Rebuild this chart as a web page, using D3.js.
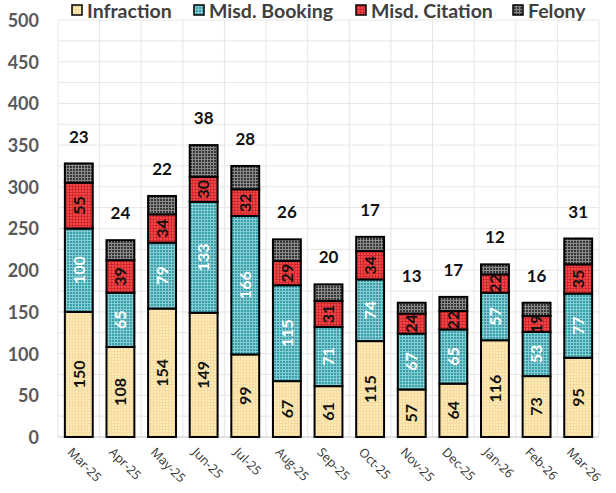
<!DOCTYPE html>
<html><head><meta charset="utf-8">
<script src="https://cdn.jsdelivr.net/npm/d3@7"></script>
<style>body{margin:0;background:#fff}svg{display:block}</style>
</head><body>
<svg id="c" width="616" height="493"></svg>
<script>
const months = ["Mar-25","Apr-25","May-25","Jun-25","Jul-25","Aug-25","Sep-25","Oct-25","Nov-25","Dec-25","Jan-26","Feb-26","Mar-26"];
const infraction = [150,108,154,149,99,67,61,115,57,64,116,73,95];
const misdBooking = [100,65,79,133,166,115,71,74,67,65,57,53,77];
const misdCitation = [55,39,34,30,32,29,31,34,24,22,22,19,35];
const felony = [23,24,22,38,28,26,20,17,13,17,12,16,31];
const seriesNames = ["Infraction","Misd. Booking","Misd. Citation","Felony"];
const yTicks = [0,50,100,150,200,250,300,350,400,450,500];

const svg = d3.select("#c");
const M = {l:58, r:17, t:20, b:56};
const x = d3.scaleBand().domain(months).range([M.l, 599]).paddingInner(0.33).paddingOuter(0.165);
const xb = d3.scaleBand().domain(months).range([M.l, 599]);
const y = d3.scaleLinear().domain([0,500]).range([437, 20]);
const FONT = "Lato, 'Open Sans', sans-serif";

const defs = svg.append("defs");
const pats = [
  {id:"p0", base:"#fdeab8", line:"#f5dc9e"},
  {id:"p1", base:"#36a0ab", line:"#86cbd2"},
  {id:"p2", base:"#f4474a", line:"#d02a2e"},
  {id:"p3", base:"#363636", line:"#8a8a8a"}
];
pats.forEach(p=>{
  const pt = defs.append("pattern").attr("id",p.id).attr("patternUnits","userSpaceOnUse").attr("width",3).attr("height",3);
  pt.append("rect").attr("width",3).attr("height",3).attr("fill",p.base);
  pt.append("rect").attr("x",0).attr("y",0).attr("width",3).attr("height",1).attr("fill",p.line);
  pt.append("rect").attr("x",0).attr("y",0).attr("width",1).attr("height",3).attr("fill",p.line);
});

// grid
const g = svg.append("g");
d3.range(0,501,25).forEach(v=>{
  g.append("line").attr("x1",M.l).attr("x2",599).attr("y1",y(v)).attr("y2",y(v)).attr("stroke","#e6e6e6").attr("stroke-width",1);
});
months.forEach(m=>{
  g.append("line").attr("x1",xb(m)).attr("x2",xb(m)).attr("y1",y(500)).attr("y2",y(0)).attr("stroke","#e6e6e6");
});
g.append("line").attr("x1",599).attr("x2",599).attr("y1",y(500)).attr("y2",y(0)).attr("stroke","#e6e6e6");
g.append("line").attr("x1",M.l).attr("x2",599).attr("y1",y(0)).attr("y2",y(0)).attr("stroke","#d0d0d0");

// y axis labels
const yAxis = d3.axisLeft(y).tickValues(yTicks).tickSize(0).tickPadding(0);
const ya = svg.append("g").attr("transform","translate(39,0)").call(yAxis);
ya.select(".domain").remove();
ya.selectAll("text").attr("font-family",FONT).attr("font-weight","bold").attr("font-size","18px").attr("fill","#595959").attr("dy","0.36em");

// stacked data
const table = months.map((m,i)=>({m, s0:infraction[i], s1:misdBooking[i], s2:misdCitation[i], s3:felony[i]}));
const stack = d3.stack().keys(["s0","s1","s2","s3"])(table);
const labelColors = ["#111","#fff","#111"];
stack.forEach((layer,k)=>{
  const gl = svg.append("g");
  gl.selectAll("rect").data(layer).join("rect")
    .attr("x",d=>x(d.data.m)).attr("width",x.bandwidth())
    .attr("y",d=>y(d[1])).attr("height",d=>y(d[0])-y(d[1]))
    .attr("fill",`url(#p${k})`).attr("stroke","#000").attr("stroke-width",2);
  if(k<3){
    gl.selectAll("text").data(layer).join("text")
      .attr("transform",d=>`translate(${x(d.data.m)+x.bandwidth()/2},${(y(d[0])+y(d[1]))/2}) rotate(-90)`)
      .attr("text-anchor","middle").attr("dy","0.36em")
      .attr("font-family",FONT).attr("font-weight","bold").attr("font-size","16px")
      .attr("fill",labelColors[k]).text(d=>d[1]-d[0]);
  } else {
    gl.selectAll("text").data(layer).join("text")
      .attr("x",d=>x(d.data.m)+x.bandwidth()/2).attr("y",d=>y(d[1])-27)
      .attr("text-anchor","middle").attr("dy","0.36em")
      .attr("font-family",FONT).attr("font-weight","bold").attr("font-size","17px")
      .attr("fill","#111").text(d=>d[1]-d[0]);
  }
});

// x labels
const xa = svg.append("g").attr("transform",`translate(0,${y(0)})`).call(d3.axisBottom(x).tickSize(0).tickPadding(0));
xa.select(".domain").remove();
xa.selectAll("text").attr("text-anchor","start").attr("transform","translate(-9,13) rotate(45)")
  .attr("dy","0.35em").attr("y",0)
  .attr("font-family","'Open Sans',sans-serif").attr("font-size","12.5px").attr("fill","#333");

// legend
const legX = [72,194,356,513];
const lg = svg.append("g");
seriesNames.forEach((n,i)=>{
  lg.append("rect").attr("x",legX[i]).attr("y",5).attr("width",10).attr("height",10).attr("fill",`url(#p${i})`).attr("stroke","#000").attr("stroke-width",1.5);
  lg.append("text").attr("x",legX[i]+15).attr("y",11).attr("dy","0.35em")
    .attr("font-family",FONT).attr("font-weight","bold").attr("font-size","19.5px").attr("fill","#404040").text(n);
});
</script>
</body></html>
